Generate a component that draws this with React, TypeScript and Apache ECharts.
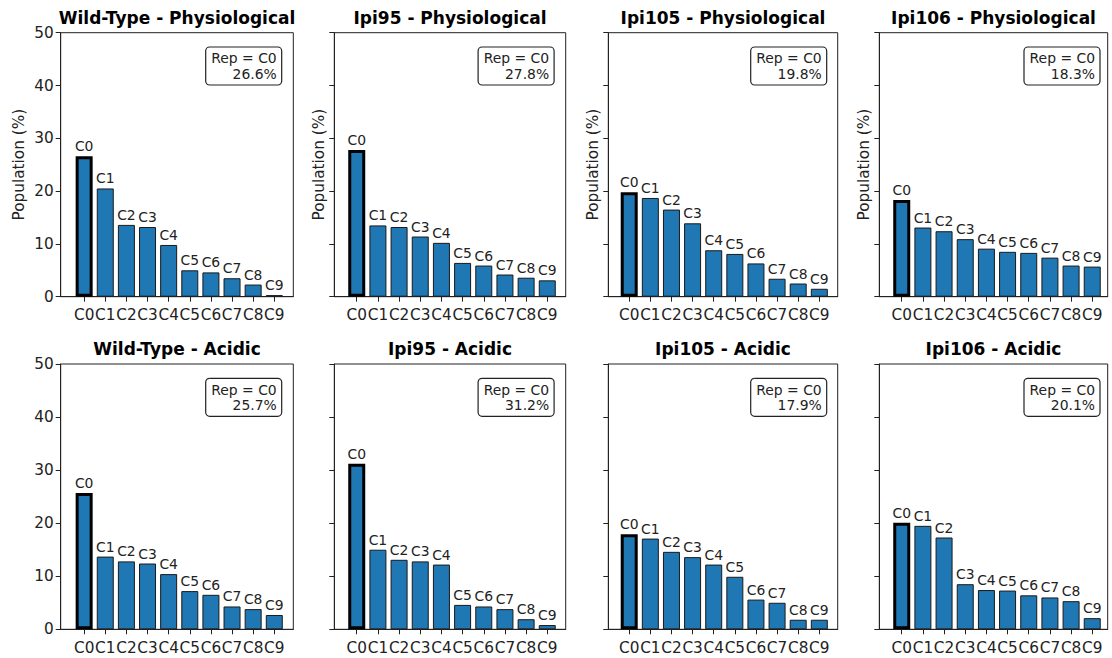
import { useEffect, useRef } from "react";
import * as echarts from "echarts";

const categories = ["C0", "C1", "C2", "C3", "C4", "C5", "C6", "C7", "C8", "C9"];
const panelTitles = [
  "Wild-Type - Physiological",
  "Ipi95 - Physiological",
  "Ipi105 - Physiological",
  "Ipi106 - Physiological",
  "Wild-Type - Acidic",
  "Ipi95 - Acidic",
  "Ipi105 - Acidic",
  "Ipi106 - Acidic",
];
const wtPhys = [26.6, 20.5, 13.6, 13.2, 9.8, 5.0, 4.6, 3.5, 2.3, 0.3];
const ipi95Phys = [27.8, 13.5, 13.2, 11.4, 10.2, 6.4, 5.9, 4.2, 3.6, 3.1];
const ipi105Phys = [19.8, 18.7, 16.5, 13.9, 8.8, 8.1, 6.3, 3.4, 2.5, 1.5];
const ipi106Phys = [18.3, 13.1, 12.4, 10.9, 9.1, 8.5, 8.3, 7.4, 5.9, 5.7];
const wtAcid = [25.7, 13.7, 12.8, 12.4, 10.4, 7.2, 6.5, 4.3, 3.8, 2.7];
const ipi95Acid = [31.2, 15.0, 13.1, 12.8, 12.2, 4.6, 4.3, 3.8, 1.9, 0.8];
const ipi105Acid = [17.9, 17.1, 14.6, 13.6, 12.2, 9.9, 5.6, 5.0, 1.8, 1.8];
const ipi106Acid = [20.1, 19.5, 17.3, 8.5, 7.4, 7.3, 6.4, 6.0, 5.3, 2.1];
const panelValues = [wtPhys, ipi95Phys, ipi105Phys, ipi106Phys, wtAcid, ipi95Acid, ipi105Acid, ipi106Acid];
const yMin = 0;
const yMax = 50;
const yStep = 10;
const yName = "Population (%)";

const FONT = "DejaVu Sans";
const TXT = "#222";
const AX_FS = 15.3;
const COLS = [
  { left: 60.7, width: 232.6, xMin: -1.11, xMax: 9.9, boxOff: 11.6 },
  { left: 334.3, width: 231.4, xMin: -1.06, xMax: 9.87, boxOff: 11.6 },
  { left: 608.3, width: 229.4, xMin: -0.99, xMax: 9.87, boxOff: 11.0 },
  { left: 879.3, width: 228.4, xMin: -1.06, xMax: 9.73, boxOff: 7.7 },
];
const ROWS = [
  { top: 32.7, height: 264, titleY: 18 },
  { top: 364, height: 265.3, titleY: 349 },
];

export default function App() {
  const ref = useRef<HTMLDivElement>(null);
  useEffect(() => {
    const chart = echarts.init(ref.current!, null, { renderer: "svg" });
    const grids: any[] = [];
    const xAxes: any[] = [];
    const yAxes: any[] = [];
    const series: any[] = [];
    const graphics: any[] = [];
    const idxs = categories.map((_, k) => k);
    panelValues.forEach((vals, i) => {
      const r = Math.floor(i / 4);
      const c = i % 4;
      const col = COLS[c];
      const row = ROWS[r];
      grids.push({
        left: col.left,
        top: row.top,
        width: col.width,
        height: row.height,
        show: true,
        borderColor: TXT,
        borderWidth: 1,
        backgroundColor: "transparent",
      });
      xAxes.push({
        type: "value",
        gridIndex: i,
        min: col.xMin,
        max: col.xMax,
        splitLine: { show: false },
        axisLine: { show: true, onZero: false, lineStyle: { color: TXT, width: 1 } },
        axisTick: { show: true, customValues: idxs, length: 5, lineStyle: { color: TXT } },
        axisLabel: {
          show: true,
          customValues: idxs,
          formatter: (v: number) => categories[Math.round(v)],
          fontSize: AX_FS,
          color: TXT,
          fontFamily: FONT,
          margin: 11,
        },
      });
      yAxes.push({
        type: "value",
        gridIndex: i,
        min: yMin,
        max: yMax,
        interval: yStep,
        splitLine: { show: false },
        axisLine: { show: true, onZero: false, lineStyle: { color: TXT, width: 1 } },
        axisTick: { show: true, length: 5, lineStyle: { color: TXT } },
        axisLabel: { show: c === 0, fontSize: AX_FS, color: TXT, fontFamily: FONT, margin: 7 },
        name: r === 0 ? yName : "",
        nameLocation: "middle",
        nameGap: c === 0 ? 34 : 8,
        nameTextStyle: { fontSize: AX_FS, color: TXT, fontFamily: FONT },
      });
      const repIdx = vals.indexOf(Math.max(...vals));
      series.push({
        type: "bar",
        xAxisIndex: i,
        yAxisIndex: i,
        barWidth: 17,
        data: vals.map((v, k) => ({
          value: [k, v],
          itemStyle:
            k === repIdx
              ? { color: "#1f77b4", borderColor: "#000", borderWidth: 3 }
              : { color: "#1f77b4", borderColor: "#1a1a1a", borderWidth: 1 },
        })),
        label: {
          show: true,
          position: "top",
          distance: 3,
          formatter: (p: any) => categories[p.dataIndex],
          fontSize: 13.9,
          color: TXT,
          fontFamily: FONT,
        },
      });
      const cx = col.left + col.width / 2;
      graphics.push({
        type: "text",
        x: cx,
        y: row.titleY,
        style: {
          text: panelTitles[i],
          textAlign: "center",
          textVerticalAlign: "middle",
          fontSize: 17,
          fontWeight: "bold",
          fontFamily: FONT,
          fill: "#000",
        },
      });
      const boxW = 76;
      const boxH = 38;
      const boxRight = col.left + col.width - col.boxOff;
      const boxTop = row.top + 14.3;
      graphics.push({
        type: "rect",
        shape: { x: boxRight - boxW, y: boxTop, width: boxW, height: boxH, r: 4 },
        style: { fill: "#fff", stroke: "#222", lineWidth: 1.2 },
        z: 10,
      });
      graphics.push({
        type: "text",
        x: boxRight - 5,
        y: boxTop + boxH / 2,
        z: 11,
        style: {
          text: `Rep = ${categories[repIdx]}\n${vals[repIdx].toFixed(1)}%`,
          textAlign: "right",
          textVerticalAlign: "middle",
          fontSize: 13.9,
          lineHeight: 15.5,
          fontFamily: FONT,
          fill: TXT,
        },
      });
    });
    chart.setOption({
      animation: false,
      backgroundColor: "#fff",
      grid: grids,
      xAxis: xAxes,
      yAxis: yAxes,
      series,
      graphic: graphics,
    });
    return () => chart.dispose();
  }, []);
  return (
    <div
      ref={ref}
      style={{ position: "absolute", left: 0, top: 0, width: 1112, height: 658, background: "#fff" }}
    />
  );
}
